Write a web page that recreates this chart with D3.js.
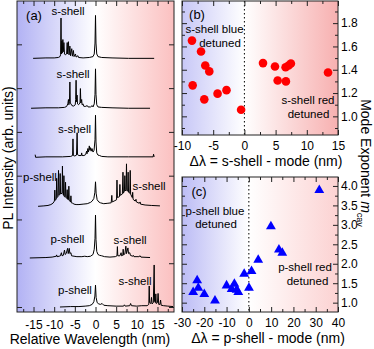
<!DOCTYPE html>
<html><head><meta charset="utf-8">
<script src="https://cdn.jsdelivr.net/npm/d3@7"></script>
<style>
body{margin:0;background:#fff}
text{font-family:Arial,"Liberation Sans",Helvetica,sans-serif;fill:#000}
</style>
</head><body>
<svg id="chart" width="374" height="349"></svg>
<script>
// ---------------- DATA ----------------
// Panel (a): stacked PL spectra, [relative wavelength (nm), intensity above baseline]
const traceOffsets = [5.68, 4.54, 3.42, 2.30, 1.12, 0.0];
const trace1 = [[-15.1,0],[-12,0.01],[-10,0.01],[-9,0.02],[-8.6,0.04],[-8.45,0.08],[-8.35,0.92],[-8.25,0.1],[-8.15,0.40],[-8.05,0.12],[-7.9,0.43],[-7.8,0.15],[-7.65,0.36],[-7.5,0.1],[-7.3,0.08],[-7.0,0.1],[-6.85,0.36],[-6.75,0.1],[-6.55,0.38],[-6.4,0.08],[-6.2,0.28],[-6.05,0.06],[-5.75,0.22],[-5.6,0.05],[-5.35,0.18],[-5.2,0.04],[-4.85,0.1],[-4.7,0.03],[-4.25,0.06],[-4.1,0.02],[-3,0.01],[-1.5,0.02],[-0.6,0.04],[-0.3,0.1],[-0.12,0.35],[0,0.98],[0.12,0.35],[0.3,0.1],[0.6,0.04],[1.5,0.02],[4,0.01],[8,0],[14.2,0]];
const trace2 = [[-15.6,0],[-12,0.01],[-9,0.01],[-7.5,0.02],[-7.0,0.04],[-6.7,0.1],[-6.55,0.2],[-6.45,0.08],[-6.3,0.15],[-6.2,0.60],[-6.1,0.12],[-5.95,0.1],[-5.7,0.06],[-5.3,0.05],[-4.9,0.08],[-4.8,0.2],[-4.7,0.64],[-4.6,0.15],[-4.45,0.3],[-4.35,0.1],[-4.1,0.08],[-3.75,0.12],[-3.65,0.45],[-3.55,0.12],[-3.35,0.2],[-3.25,0.08],[-3.0,0.1],[-2.9,0.05],[-2.5,0.04],[-2.0,0.06],[-1.8,0.03],[-1.2,0.03],[-0.8,0.06],[-0.6,0.03],[-0.3,0.1],[-0.12,0.32],[0,0.9],[0.12,0.32],[0.3,0.08],[0.6,0.03],[1.5,0.02],[4,0.01],[8,0],[13.2,0]];
const trace3 = [[-14.6,0.06],[-14.5,0],[-12,0.01],[-8,0.01],[-6,0.02],[-5.55,0.04],[-5.45,0.42],[-5.35,0.04],[-5.0,0.03],[-4.6,0.05],[-4.45,0.56],[-4.35,0.06],[-4.0,0.04],[-3.45,0.04],[-3.35,0.1],[-3.25,0.04],[-2.8,0.04],[-2.4,0.06],[-2.15,0.14],[-2.05,0.08],[-1.85,0.2],[-1.7,0.12],[-1.5,0.26],[-1.35,0.16],[-1.2,0.22],[-1.05,0.14],[-0.85,0.2],[-0.6,0.12],[-0.35,0.16],[-0.12,0.4],[0,0.96],[0.12,0.35],[0.3,0.1],[0.6,0.05],[1.0,0.04],[1.5,0.02],[3,0.01],[8,0.01],[13.95,0.01],[14.05,0.07],[14.2,0.01]];
const trace4 = [[-13.9,0],[-12.5,0.01],[-11.5,0.02],[-10.8,0.04],[-10.3,0.07],[-9.95,0.12],[-9.85,0.37],[-9.75,0.14],[-9.5,0.16],[-9.4,0.64],[-9.3,0.2],[-9.1,0.22],[-8.95,0.82],[-8.85,0.25],[-8.65,0.3],[-8.55,0.75],[-8.45,0.28],[-8.1,0.3],[-8.0,0.92],[-7.9,0.3],[-7.75,0.25],[-7.65,0.7],[-7.55,0.22],[-7.35,0.22],[-7.25,0.55],[-7.15,0.2],[-6.95,0.18],[-6.85,0.38],[-6.75,0.16],[-6.55,0.15],[-6.45,0.46],[-6.35,0.14],[-6.05,0.1],[-5.95,0.24],[-5.85,0.08],[-5.5,0.07],[-5.2,0.05],[-4.7,0.04],[-4,0.04],[-3,0.05],[-2,0.06],[-1.2,0.09],[-0.8,0.12],[-0.4,0.18],[-0.15,0.32],[0,0.56],[0.15,0.3],[0.4,0.15],[0.8,0.1],[1.2,0.08],[2,0.06],[3,0.07],[3.8,0.08],[3.95,0.25],[4.05,0.1],[4.5,0.12],[5.1,0.15],[5.2,0.6],[5.3,0.2],[5.8,0.22],[5.9,0.5],[6.0,0.25],[6.5,0.28],[6.65,0.78],[6.75,0.3],[7.0,0.35],[7.1,0.7],[7.2,0.35],[7.4,0.38],[7.5,0.97],[7.6,0.35],[7.8,0.35],[7.9,0.78],[8.0,0.32],[8.3,0.3],[8.4,0.82],[8.5,0.28],[8.9,0.2],[9.0,0.32],[9.1,0.16],[9.6,0.12],[9.8,0.16],[9.9,0.1],[10.6,0.07],[10.8,0.1],[10.9,0.05],[12,0.03],[13.5,0.02],[15.6,0.01]];
const trace5 = [[-15.9,0],[-12,0.01],[-10.5,0.02],[-9.5,0.04],[-9.4,0.07],[-9.3,0.03],[-8.8,0.04],[-8.5,0.05],[-8.25,0.12],[-8.1,0.05],[-7.8,0.06],[-7.5,0.18],[-7.35,0.08],[-7.1,0.1],[-6.75,0.22],[-6.6,0.1],[-6.35,0.22],[-6.2,0.1],[-5.95,0.12],[-5.8,0.05],[-5.2,0.04],[-4.5,0.03],[-3.3,0.03],[-2.6,0.04],[-2.0,0.03],[-1.2,0.04],[-0.6,0.08],[-0.3,0.2],[-0.12,0.45],[0,0.98],[0.12,0.42],[0.3,0.15],[0.6,0.08],[1.0,0.06],[1.5,0.05],[2.2,0.03],[3.5,0.02],[4.8,0.03],[5.2,0.05],[5.3,0.26],[5.4,0.05],[5.9,0.05],[6.2,0.12],[6.3,0.05],[6.6,0.06],[6.7,0.2],[6.8,0.07],[7.1,0.09],[7.35,0.27],[7.5,0.1],[7.85,0.23],[8.0,0.1],[8.3,0.12],[8.45,0.06],[9.0,0.04],[9.15,0.06],[9.3,0.03],[10.5,0.03],[10.8,0.05],[11,0.02],[13.2,0.01]];
const trace6 = [[-8.6,0],[-6,0.01],[-4,0.01],[-2.5,0.02],[-1.5,0.03],[-0.8,0.06],[-0.4,0.12],[-0.15,0.25],[0,0.5],[0.15,0.22],[0.4,0.1],[0.8,0.07],[1.2,0.06],[1.6,0.08],[2.0,0.04],[3,0.03],[5,0.02],[6.8,0.02],[7.0,0.05],[7.2,0.02],[8.3,0.03],[8.5,0.08],[8.7,0.03],[10,0.02],[11.2,0.03],[12.5,0.03],[12.9,0.06],[13.0,0.48],[13.1,0.1],[13.4,0.08],[13.55,0.22],[13.7,0.07],[14.0,0.1],[14.2,0.96],[14.3,0.12],[14.5,0.1],[14.6,0.3],[14.7,0.08],[15.0,0.1],[15.15,0.31],[15.3,0.06],[15.6,0.06],[15.75,0.16],[15.9,0.04],[16.5,0.03],[17.5,0.02],[18.8,0.01]];
const traces = [trace1, trace2, trace3, trace4, trace5, trace6];
const aTickLabels = [-15,-10,-5,0,5,10,15];

// Panel (b): s-shell detuning vs mode exponent
const bDetuning = [-8.4,-6.95,-6.27,-5.63,-8.29,-6.43,-4.3,-2.87,-0.53,2.98,4.9,5.33,6.65,6.6,7.08,7.45,13.4];
const bExponent = [1.65,1.557,1.437,1.386,1.266,1.146,1.195,1.225,1.057,1.457,1.428,1.308,1.30,1.422,1.437,1.454,1.377];
const bXTicks = [-10,-5,0,5,10,15];
const bYTicks = [1.0,1.2,1.4,1.6,1.8];

// Panel (c): p-shell detuning vs mode exponent
const cDetuning = [31.6,9.9,13.5,15.0,4.2,-2.1,1.2,0.05,-10,-6.5,-7.7,-5.5,-4.75,-23.2,-22.7,-25,-20,-15.2];
const cExponent = [3.89,2.96,2.36,2.28,2.10,1.74,1.81,1.38,1.44,1.48,1.35,1.33,1.27,1.57,1.38,1.27,1.22,1.05];
const cXTicks = [-30,-20,-10,0,10,20,30,40];
const cYTicks = [1.0,1.5,2.0,2.5,3.0,3.5,4.0];

// ---------------- DRAW ----------------
const svg = d3.select("#chart");
const defs = svg.append("defs");
const FONT = 'Arial,"Liberation Sans",sans-serif';

function gradient(id, x0, x1, zeroFrac, cl, cr){
  const g = defs.append("linearGradient").attr("id", id)
    .attr("gradientUnits","userSpaceOnUse").attr("x1",x0).attr("x2",x1).attr("y1",0).attr("y2",0);
  g.append("stop").attr("offset",0).attr("stop-color",cl);
  g.append("stop").attr("offset",zeroFrac).attr("stop-color","#ffffff");
  g.append("stop").attr("offset",1).attr("stop-color",cr);
}
function frame(L,R,T,B,id){
  svg.append("rect").attr("x",L).attr("y",T).attr("width",R-L).attr("height",B-T)
    .attr("fill","url(#"+id+")");
}
function border(L,R,T,B){
  svg.append("rect").attr("x",L).attr("y",T).attr("width",R-L).attr("height",B-T)
    .attr("fill","none").attr("stroke","#222").attr("stroke-width",1);
}
function styleAxis(g, fs){
  g.select(".domain").remove();
  g.selectAll("line").attr("stroke","#222");
  g.selectAll("text").attr("font-size",fs).attr("font-family",FONT).attr("fill","#000");
}
function range(a,b,s){const r=[];for(let v=a;v<=b+1e-9;v+=s)r.push(+v.toFixed(4));return r;}
function txt(x,y,s,fs,anchor){
  return svg.append("text").attr("x",x).attr("y",y).attr("font-size",fs)
    .attr("font-family",FONT).attr("text-anchor",anchor||"middle").text(s);
}
const LBL = "11.5px";

// ===== Panel (a) =====
const A = {L:17,R:174,T:1,B:312};
const xa = d3.scaleLinear().domain([-19,19]).range([A.L,A.R]);
const ya = d3.scaleLinear().domain([-0.114,6.99]).range([A.B,A.T]);
gradient("ga", A.L, A.R, (xa(0)-A.L)/(A.R-A.L), "#b2b2f4", "#fbc0c0");
frame(A.L,A.R,A.T,A.B,"ga");

defs.append("clipPath").attr("id","clipA").append("rect")
  .attr("x",A.L).attr("y",A.T).attr("width",A.R-A.L).attr("height",A.B-A.T);
const gTr = svg.append("g").attr("clip-path","url(#clipA)");
traces.forEach((tr,i)=>{
  const off = traceOffsets[i];
  const line = d3.line().x(d=>xa(d[0])).y(d=>ya(off+d[1]));
  gTr.append("path").attr("d", line(tr)).attr("fill","none")
    .attr("stroke","#000").attr("stroke-width",1).attr("stroke-linejoin","round");
});

let g;
g = svg.append("g").attr("transform",`translate(0,${A.B})`)
  .call(d3.axisBottom(xa).tickValues(aTickLabels).tickSize(-5).tickPadding(8).tickFormat(d=>d));
styleAxis(g,"12px");
g = svg.append("g").attr("transform",`translate(0,${A.B})`)
  .call(d3.axisBottom(xa).tickValues(range(-17.5,17.5,5)).tickSize(-3).tickFormat(""));
styleAxis(g,"12px");
g = svg.append("g").attr("transform",`translate(0,${A.T})`)
  .call(d3.axisTop(xa).tickValues(aTickLabels).tickSize(-5).tickFormat(""));
styleAxis(g,"12px");
g = svg.append("g").attr("transform",`translate(0,${A.T})`)
  .call(d3.axisTop(xa).tickValues(range(-17.5,17.5,5)).tickSize(-3).tickFormat(""));
styleAxis(g,"12px");
g = svg.append("g").attr("transform",`translate(${A.L},0)`)
  .call(d3.axisLeft(ya).tickValues([0,1,2,3,4,5,6]).tickSize(-5).tickFormat(""));
styleAxis(g,"12px");
g = svg.append("g").attr("transform",`translate(${A.R},0)`)
  .call(d3.axisRight(ya).tickValues([0,1,2,3,4,5,6]).tickSize(-5).tickFormat(""));
styleAxis(g,"12px");
border(A.L,A.R,A.T,A.B);

txt(34,20,"(a)","13px");
txt(68,15,"s-shell",LBL);
txt(73,78,"s-shell",LBL);
txt(74.5,133,"s-shell",LBL);
txt(40,181,"p-shell",LBL);
txt(149,190,"s-shell",LBL);
txt(67.5,243,"p-shell",LBL);
txt(130,244,"s-shell",LBL);
txt(75,294,"p-shell",LBL);
txt(135,285,"s-shell",LBL);
txt(90,344,"Relative Wavelength (nm)","14px");
svg.append("text").attr("transform","translate(13,158) rotate(-90)")
  .attr("text-anchor","middle").attr("font-size","14px").attr("font-family",FONT)
  .text("PL Intensity (arb. units)");

// ===== Panel (b) =====
const Bp = {L:182,R:338,T:1,B:135};
const xb = d3.scaleLinear().domain([-10,15]).range([Bp.L,Bp.R]);
const yb = d3.scaleLinear().domain([0.84,1.99]).range([Bp.B,Bp.T]);
gradient("gb", Bp.L, Bp.R, (xb(0)-Bp.L)/(Bp.R-Bp.L), "#c8c8f7", "#f7b0b0");
frame(Bp.L,Bp.R,Bp.T,Bp.B,"gb");
svg.append("line").attr("x1",xb(0)).attr("x2",xb(0)).attr("y1",Bp.T).attr("y2",Bp.B)
  .attr("stroke","#000").attr("stroke-dasharray","1.5,2.5").attr("stroke-width",1);

g = svg.append("g").attr("transform",`translate(0,${Bp.B})`)
  .call(d3.axisBottom(xb).tickValues(bXTicks).tickSize(-5).tickPadding(6).tickFormat(d=>d));
styleAxis(g,"12px");
g = svg.append("g").attr("transform",`translate(0,${Bp.B})`)
  .call(d3.axisBottom(xb).tickValues(range(-7.5,12.5,5)).tickSize(-3).tickFormat(""));
styleAxis(g,"12px");
g = svg.append("g").attr("transform",`translate(0,${Bp.T})`)
  .call(d3.axisTop(xb).tickValues(bXTicks).tickSize(-5).tickFormat(""));
styleAxis(g,"12px");
g = svg.append("g").attr("transform",`translate(0,${Bp.T})`)
  .call(d3.axisTop(xb).tickValues(range(-7.5,12.5,5)).tickSize(-3).tickFormat(""));
styleAxis(g,"12px");
g = svg.append("g").attr("transform",`translate(${Bp.R},0)`)
  .call(d3.axisRight(yb).tickValues(bYTicks).tickSize(-5).tickPadding(3).tickFormat(d3.format(".1f")));
styleAxis(g,"12px");
g = svg.append("g").attr("transform",`translate(${Bp.R},0)`)
  .call(d3.axisRight(yb).tickValues(range(0.9,1.9,0.2)).tickSize(-3).tickFormat(""));
styleAxis(g,"12px");
g = svg.append("g").attr("transform",`translate(${Bp.L},0)`)
  .call(d3.axisLeft(yb).tickValues(bYTicks).tickSize(-5).tickFormat(""));
styleAxis(g,"12px");
g = svg.append("g").attr("transform",`translate(${Bp.L},0)`)
  .call(d3.axisLeft(yb).tickValues(range(0.9,1.9,0.2)).tickSize(-3).tickFormat(""));
styleAxis(g,"12px");

svg.append("g").selectAll("circle").data(bDetuning.map((d,i)=>[d,bExponent[i]]))
  .join("circle").attr("cx",d=>xb(d[0])).attr("cy",d=>yb(d[1])).attr("r",4.3).attr("fill","#ff0000");
border(Bp.L,Bp.R,Bp.T,Bp.B);

txt(197,19,"(b)","13px");
txt(214.5,33,"s-shell blue",LBL);
txt(220,47,"detuned",LBL);
txt(308,104,"s-shell red",LBL);
txt(308.5,118,"detuned",LBL);
txt(266,166,"\u0394\u03bb = s-shell - mode (nm)","14px");

// ===== Panel (c) =====
const Cp = {L:182,R:338,T:177,B:312};
const xc = d3.scaleLinear().domain([-30,40]).range([Cp.L,Cp.R]);
const yc = d3.scaleLinear().domain([0.76,4.23]).range([Cp.B,Cp.T]);
gradient("gc", Cp.L, Cp.R, (xc(0)-Cp.L)/(Cp.R-Cp.L), "#bcbcf5", "#fcd2d2");
frame(Cp.L,Cp.R,Cp.T,Cp.B,"gc");
svg.append("line").attr("x1",xc(0)).attr("x2",xc(0)).attr("y1",Cp.T).attr("y2",Cp.B)
  .attr("stroke","#000").attr("stroke-dasharray","1.5,2.5").attr("stroke-width",1);

g = svg.append("g").attr("transform",`translate(0,${Cp.B})`)
  .call(d3.axisBottom(xc).tickValues(cXTicks).tickSize(-5).tickPadding(6).tickFormat(d=>d));
styleAxis(g,"12px");
g = svg.append("g").attr("transform",`translate(0,${Cp.B})`)
  .call(d3.axisBottom(xc).tickValues(range(-25,35,10)).tickSize(-3).tickFormat(""));
styleAxis(g,"12px");
g = svg.append("g").attr("transform",`translate(0,${Cp.T})`)
  .call(d3.axisTop(xc).tickValues(cXTicks).tickSize(-5).tickFormat(""));
styleAxis(g,"12px");
g = svg.append("g").attr("transform",`translate(0,${Cp.T})`)
  .call(d3.axisTop(xc).tickValues(range(-25,35,10)).tickSize(-3).tickFormat(""));
styleAxis(g,"12px");
g = svg.append("g").attr("transform",`translate(${Cp.R},0)`)
  .call(d3.axisRight(yc).tickValues(cYTicks).tickSize(-5).tickPadding(3).tickFormat(d3.format(".1f")));
styleAxis(g,"12px");
g = svg.append("g").attr("transform",`translate(${Cp.R},0)`)
  .call(d3.axisRight(yc).tickValues(range(1.25,3.75,0.5)).tickSize(-3).tickFormat(""));
styleAxis(g,"12px");
g = svg.append("g").attr("transform",`translate(${Cp.L},0)`)
  .call(d3.axisLeft(yc).tickValues(cYTicks).tickSize(-5).tickFormat(""));
styleAxis(g,"12px");
g = svg.append("g").attr("transform",`translate(${Cp.L},0)`)
  .call(d3.axisLeft(yc).tickValues(range(1.25,3.75,0.5)).tickSize(-3).tickFormat(""));
styleAxis(g,"12px");

const tri = d3.symbol(d3.symbolTriangle, 42);
svg.append("g").selectAll("path").data(cDetuning.map((d,i)=>[d,cExponent[i]]))
  .join("path").attr("d",tri).attr("transform",d=>`translate(${xc(d[0])},${yc(d[1])})`)
  .attr("fill","#0000ff");
border(Cp.L,Cp.R,Cp.T,Cp.B);

txt(199,196,"(c)","13px");
txt(215,215,"p-shell blue",LBL);
txt(216,228,"detuned",LBL);
txt(305,271,"p-shell red",LBL);
txt(307.5,285,"detuned",LBL);
txt(268,343,"\u0394\u03bb = p-shell - mode (nm)","14px");

// right-side shared y label
const yl = svg.append("text").attr("transform","translate(361,163) rotate(90)")
  .attr("text-anchor","middle").attr("font-size","14px").attr("font-family",FONT);
yl.append("tspan").text("Mode Exponent ");
yl.append("tspan").attr("font-style","italic").text("m");
yl.append("tspan").attr("font-size","9px").attr("dy","4").text("cav");
</script>
</body></html>
